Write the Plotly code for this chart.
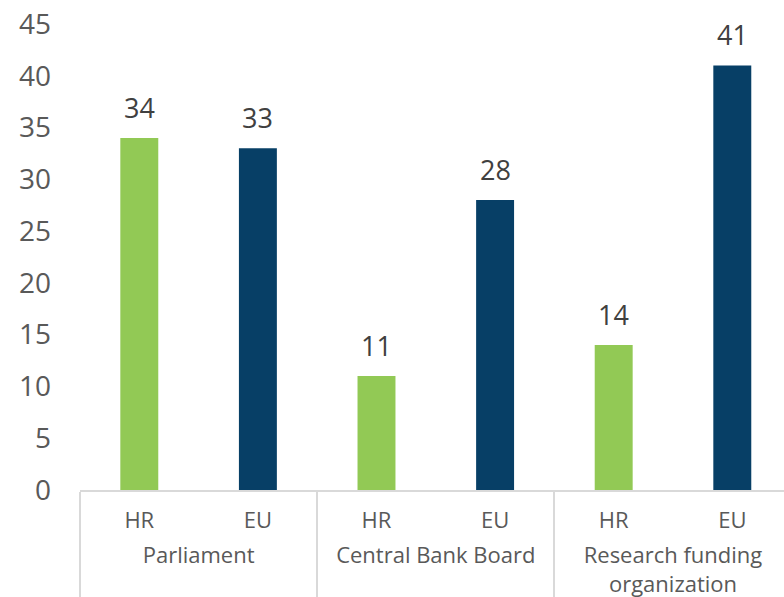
import plotly.graph_objects as go

# Data
groups = ["Parliament", "Central Bank Board", "Research funding<br>organization"]
regions = ["HR", "EU"]
hr_values = [34, 11, 14]
eu_values = [33, 28, 41]
y_ticks = [0, 5, 10, 15, 20, 25, 30, 35, 40, 45]

region_colors = {"HR": "#92C955", "EU": "#073F66"}

# Taller inner-level labels push the outer group labels further down
pad = "<span style='font-size:32px'> </span>"

# Interleave HR/EU bars within each group
x_group, x_region, values, colors = [], [], [], []
for g, hr, eu in zip(groups, hr_values, eu_values):
    for r, v in zip(regions, [hr, eu]):
        x_group.append(g)
        x_region.append(pad + r + pad)
        values.append(v)
        colors.append(region_colors[r])

fig = go.Figure(
    go.Bar(
        x=[x_group, x_region],
        y=values,
        marker=dict(color=colors, line=dict(width=0)),
        width=0.32,
    )
)

# Value labels above each bar (x given as bar index on the category axis)
for i, v in enumerate(values):
    fig.add_annotation(
        x=i,
        y=v,
        xref="x",
        yref="y",
        text=str(v),
        showarrow=False,
        yanchor="bottom",
        yshift=10,
        font=dict(size=27, color="#404040"),
    )

font_family = "Open Sans, Noto Sans, sans-serif"

fig.update_layout(
    width=784,
    height=597,
    margin=dict(l=80, r=0, t=24, b=107),
    paper_bgcolor="white",
    plot_bgcolor="white",
    font=dict(family=font_family, color="#595959"),
    showlegend=False,
    xaxis=dict(
        type="multicategory",
        range=[-0.5, 5.436],
        automargin=False,
        showline=True,
        linecolor="#D9D9D9",
        linewidth=2,
        showdividers=True,
        dividercolor="#D9D9D9",
        dividerwidth=2,
        tickfont=dict(size=22, color="#595959"),
        ticklabelstandoff=10,
        showgrid=False,
        zeroline=False,
    ),
    yaxis=dict(
        range=[0, 45],
        tickvals=y_ticks,
        automargin=False,
        showgrid=False,
        zeroline=False,
        showline=False,
        tickfont=dict(size=28, color="#595959"),
        ticklabelstandoff=28,
    ),
)

fig.write_html("out.html")
